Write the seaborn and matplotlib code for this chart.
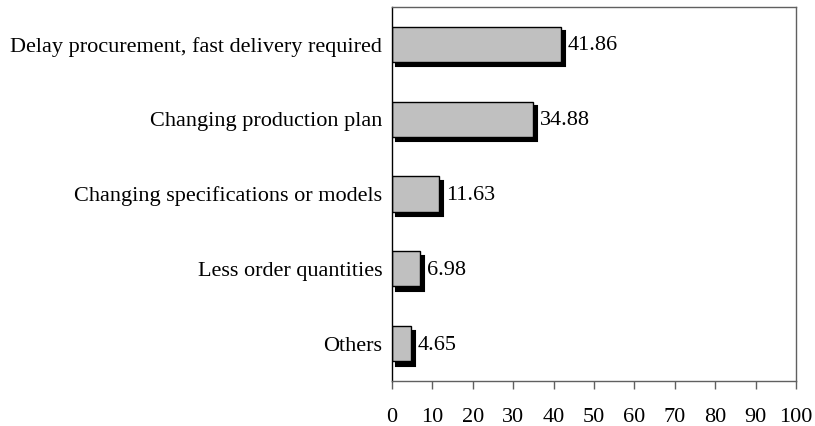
import matplotlib
matplotlib.use("Agg")
import matplotlib.pyplot as plt
import matplotlib.transforms as mtransforms
import seaborn as sns
import pandas as pd

categories = [
    "Delay procurement, fast delivery required",
    "Changing production plan",
    "Changing specifications or models",
    "Less order quantities",
    "Others",
]
values = [41.86, 34.88, 11.63, 6.98, 4.65]
value_labels = ["41.86", "34.88", "11.63", "6.98", "4.65"]
x_ticks = [0, 10, 20, 30, 40, 50, 60, 70, 80, 90, 100]

df = pd.DataFrame({"reason": categories, "percent": values})

sns.set_theme(style="white")
plt.rcParams["font.family"] = ["Liberation Serif", "DejaVu Serif"]

fig = plt.figure(figsize=(8.15, 4.26), dpi=100)
ax = fig.add_axes([392 / 815, 1 - 381 / 426, 404 / 815, 374 / 426])

# drop shadow, drawn first and shifted right/down
sns.barplot(data=df, x="percent", y="reason", orient="h", order=categories,
            color="black", saturation=1, width=0.47, linewidth=0, ax=ax)
n_shadow = len(ax.patches)
shift = mtransforms.ScaledTranslation(4 / 100, -4.5 / 100, fig.dpi_scale_trans)
for p in ax.patches[:n_shadow]:
    p.set_transform(ax.transData + shift)
    p.set_edgecolor("black")
    p.set_linewidth(1.5)

# main grey bars
sns.barplot(data=df, x="percent", y="reason", orient="h", order=categories,
            color="#C0C0C0", saturation=1, width=0.47,
            edgecolor="black", linewidth=1.0, ax=ax)

for i, (v, lab) in enumerate(zip(values, value_labels)):
    ax.annotate(lab, xy=(v, i), xytext=(7, -1.5), textcoords="offset pixels",
                ha="left", va="center", fontsize=16, color="black")

ax.set_xlim(0, 100)
ax.set_ylim(len(categories) - 0.5, -0.5)
ax.set_xticks(x_ticks)
ax.set_xticklabels([str(t) for t in x_ticks])
ax.set_xlabel("")
ax.set_ylabel("")

ax.tick_params(axis="x", direction="out", length=6, width=1, color="#606060",
               pad=13.5, labelsize=16, labelcolor="black", bottom=True)
ax.tick_params(axis="y", length=0, pad=7, labelsize=16, labelcolor="black")

for side in ["top", "right", "bottom"]:
    ax.spines[side].set_visible(True)
    ax.spines[side].set_color("#606060")
    ax.spines[side].set_linewidth(1.0)
ax.spines["left"].set_color("black")
ax.spines["left"].set_linewidth(1.0)

fig.savefig("out.png", dpi=100, facecolor="white")
